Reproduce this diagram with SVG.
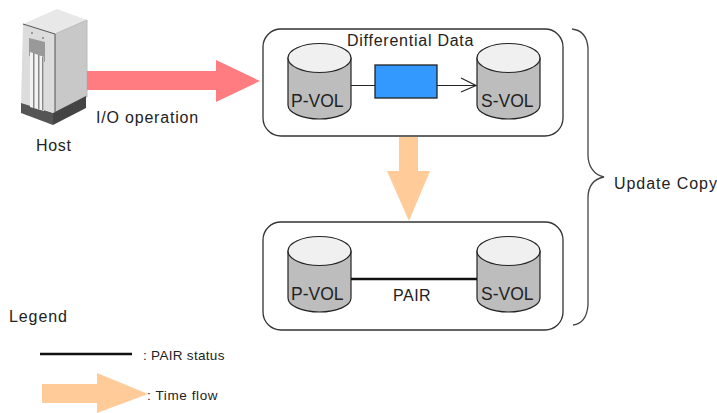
<svg xmlns="http://www.w3.org/2000/svg" width="717" height="413" viewBox="0 0 717 413">
<style>
text{font-family:"Liberation Sans",Arial,sans-serif;fill:#222}
.t{font-size:16px}
.v{font-size:17.500px}
.s{font-size:13.500px}
.frame{fill:#fff;stroke:#333;stroke-width:1.3}
.body{fill:#bdbdbd;stroke:#222;stroke-width:1.2}
.top{fill:#f0f0f0;stroke:#222;stroke-width:1.2}
.br{fill:none;stroke:#444;stroke-width:1.3}
</style>
<defs>
<g id="cyl">
<path class="body" d="M0 15V62A31.500 14 0 0 0 63 62V15Z"/>
<ellipse class="top" cx="31.500" cy="15" rx="31.500" ry="14.500"/>
</g>
</defs>
<g id="host">
<path fill="#e8e8e8" d="M23 24L57 9L87 20L55 34Z"/>
<path fill="#c8c8c8" stroke="#bbb" d="M55 34L87 20V97L55 113Z"/>
<path fill="#dcdcdc" d="M23 24L55 34V113L21 104Z"/>
<path fill="#555" d="M21 103L53 113V125L21 113Z"/>
<path fill="#444" d="M53 113L86 96V108L53 125Z"/>
<path fill="#999" d="M29 38L45 42V62L29 56Z"/>
<path fill="#f2f2f2" d="M30 52L44 57V111L30 107Z"/>
<path fill="#888" d="M33 53h1.500V108h-1.500zM38 55h1.500V109h-1.500zM42 57h1.500V110h-1.500z"/>
<path fill="#999" d="M31 32h2v2h-2zM42 37h2v2h-2z"/>
<path fill="none" stroke="#555" d="M23 24L55 34V113"/>
<text class="t" x="36" y="151" style="letter-spacing:.7px">Host</text>
</g>
<g id="connectors">
<path id="io-arrow" fill="#ff7c80" d="M87 71H216V60L260 81L216 102V90H87Z"/>
<path id="time-arrow" fill="#ffcc99" d="M399 137H418V171H430L409 221L387 171H399Z"/>
</g>
<text class="t" x="96" y="123" style="letter-spacing:.8px">I/O operation</text>
<g id="update-group">
<rect class="frame" x="263" y="29" width="300" height="107" rx="18"/>
<text class="t" x="347" y="46" style="letter-spacing:.75px">Differential Data</text>
<g id="pvol1"><use href="#cyl" x="288" y="43"/><text class="v" x="291" y="107">P-VOL</text></g>
<g id="svol1"><use href="#cyl" x="477" y="43"/><text class="v" x="481" y="107">S-VOL</text></g>
<path fill="none" stroke="#222" stroke-width="1.2" d="M351 85.500H375M437 85.500H475M461 78L476 85.500L461 92"/>
<rect id="diff" x="375" y="65" width="62" height="33" fill="#3399ff" stroke="#222" stroke-width="1.300"/>
</g>
<g id="pair-group">
<rect class="frame" x="263" y="222" width="300" height="108" rx="18"/>
<g id="pvol2"><use href="#cyl" x="288" y="236"/><text class="v" x="291" y="300">P-VOL</text></g>
<g id="svol2"><use href="#cyl" x="477" y="236"/><text class="v" x="481" y="300">S-VOL</text></g>
<line x1="351" y1="279" x2="477" y2="279" stroke="#111" stroke-width="2.400"/>
<text class="t" x="393" y="301" style="letter-spacing:.5px">PAIR</text>
</g>
<g id="brace">
<path class="br" d="M572 29C581 30 587 35 588 48V155C588 166 594 175 604 177C594 179 588 186 588 198V305C587 318 581 324 573 325"/>
<text class="t" x="614" y="189" style="letter-spacing:.95px">Update Copy</text>
</g>
<g id="legend">
<text class="t" x="9" y="322" style="letter-spacing:.9px">Legend</text>
<line x1="40" y1="354" x2="132" y2="354" stroke="#111" stroke-width="2.400"/>
<text class="s" x="143" y="360" style="letter-spacing:.3px">: PAIR status</text>
<path fill="#ffcc99" d="M42 384H97V373L148 394L97 413V403H42Z"/>
<text class="s" x="147" y="400" style="letter-spacing:.6px">: Time flow</text>
</g>
</svg>
